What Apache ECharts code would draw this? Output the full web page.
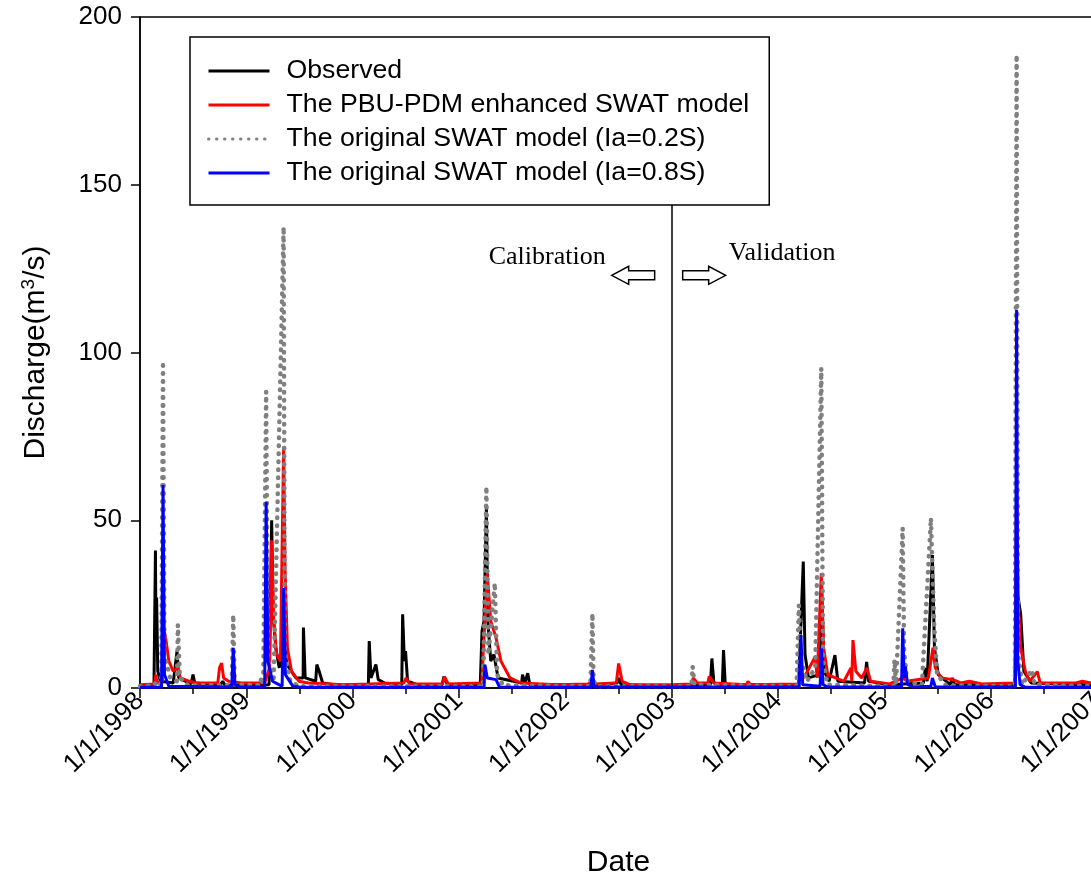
<!DOCTYPE html>
<html>
<head>
<meta charset="utf-8">
<script src="https://cdn.jsdelivr.net/npm/echarts@6/dist/echarts.min.js"></script>
<style>
  html, body { margin: 0; padding: 0; background: #fff; }
  #chart { width: 1091px; height: 875px; }
</style>
</head>
<body>
<div id="chart"></div>
<script>
// Daily discharge (m3/s), key points of each hydrograph: [date, value]
const observed = [
  ['1998-01-01', 0.5], ['1998-02-18', 0.8], ['1998-02-23', 41], ['1998-02-25', 12], ['1998-02-27', 27],
  ['1998-03-03', 5], ['1998-03-12', 2], ['1998-04-25', 1.5], ['1998-05-08', 11], ['1998-05-14', 3],
  ['1998-06-25', 1.2], ['1998-07-02', 4], ['1998-07-08', 1.5], ['1998-10-04', 1.0], ['1998-10-12', 2],
  ['1998-10-20', 0.8], ['1999-03-20', 1.0], ['1999-03-29', 50], ['1999-04-03', 22], ['1999-04-12', 12],
  ['1999-04-24', 6], ['1999-05-09', 15], ['1999-05-20', 7], ['1999-06-20', 3], ['1999-07-15', 3],
  ['1999-07-16', 18], ['1999-07-22', 3], ['1999-08-27', 2], ['1999-08-31', 7], ['1999-09-08', 5],
  ['1999-09-20', 1.5], ['1999-11-10', 0.8], ['2000-02-24', 1], ['2000-02-27', 14], ['2000-03-04', 3],
  ['2000-03-21', 7], ['2000-03-29', 2.5], ['2000-04-20', 1.5], ['2000-06-18', 1], ['2000-06-21', 22],
  ['2000-06-27', 8], ['2000-07-01', 11], ['2000-07-08', 2], ['2000-08-10', 1], ['2000-11-04', 1],
  ['2000-11-10', 3.4], ['2000-11-22', 1], ['2001-03-15', 1], ['2001-03-21', 17], ['2001-03-28', 20],
  ['2001-04-05', 54], ['2001-04-10', 20], ['2001-04-20', 8], ['2001-05-01', 10], ['2001-05-15', 3],
  ['2001-08-04', 1.5], ['2001-08-07', 4], ['2001-08-15', 1.5], ['2001-08-25', 4.4], ['2001-09-01', 1],
  ['2002-03-28', 1], ['2002-04-04', 3], ['2002-04-15', 1], ['2002-06-28', 1.5], ['2002-07-03', 3],
  ['2002-07-12', 1], ['2003-01-01', 0.5], ['2003-05-14', 1], ['2003-05-19', 8.8], ['2003-05-26', 1.5],
  ['2003-06-24', 1], ['2003-06-28', 11.3], ['2003-07-04', 1], ['2004-03-12', 1], ['2004-03-28', 37.7],
  ['2004-04-03', 10], ['2004-04-15', 3], ['2004-05-22', 4], ['2004-05-30', 29.7], ['2004-06-08', 5],
  ['2004-06-25', 2], ['2004-07-15', 9.8], ['2004-07-25', 2], ['2004-10-25', 1.5], ['2004-11-01', 7.8],
  ['2004-11-08', 2], ['2005-01-15', 1], ['2005-05-15', 1.5], ['2005-05-22', 6], ['2005-05-28', 2],
  ['2005-06-15', 39.6], ['2005-06-22', 12], ['2005-07-05', 4], ['2005-08-15', 1], ['2005-08-22', 3],
  ['2005-08-30', 1], ['2006-03-25', 1], ['2006-03-31', 30], ['2006-04-14', 22], ['2006-04-25', 5],
  ['2006-05-20', 1.5], ['2007-01-01', 0.8]
];

const pbuPdm = [
  ['1998-01-01', 1], ['1998-02-20', 1.2], ['1998-02-24', 4], ['1998-03-01', 1.5], ['1998-03-19', 2],
  ['1998-03-23', 18], ['1998-03-30', 15], ['1998-04-10', 8], ['1998-04-25', 5], ['1998-05-10', 6],
  ['1998-05-20', 3], ['1998-06-20', 2], ['1998-07-10', 1.5], ['1998-09-25', 1.5], ['1998-10-01', 6],
  ['1998-10-08', 7.4], ['1998-10-15', 3], ['1998-11-01', 2], ['1998-12-15', 1.5], ['1999-03-05', 1.5],
  ['1999-03-10', 3], ['1999-03-22', 6], ['1999-03-29', 44], ['1999-04-05', 20], ['1999-04-15', 10],
  ['1999-04-28', 8], ['1999-05-09', 72], ['1999-05-14', 35], ['1999-05-22', 12], ['1999-06-05', 5],
  ['1999-07-01', 2], ['1999-08-01', 1.5], ['1999-12-01', 1], ['2000-03-01', 1.2], ['2000-06-25', 1.5],
  ['2000-07-03', 3], ['2000-07-15', 1.2], ['2000-11-05', 1.2], ['2000-11-12', 3.4], ['2000-11-25', 1.2],
  ['2001-03-20', 1.5], ['2001-04-08', 34], ['2001-04-20', 20], ['2001-05-08', 15], ['2001-05-25', 8],
  ['2001-06-25', 3], ['2001-08-01', 1.5], ['2001-12-01', 1], ['2002-03-20', 1.2], ['2002-04-03', 2],
  ['2002-04-15', 1.2], ['2002-06-25', 1.5], ['2002-07-03', 7.3], ['2002-07-15', 2], ['2002-08-10', 1],
  ['2003-01-01', 1], ['2003-03-10', 1.2], ['2003-03-16', 3], ['2003-03-30', 1.5], ['2003-05-05', 1.5],
  ['2003-05-10', 3.5], ['2003-05-25', 1.5], ['2003-09-15', 1], ['2003-09-20', 2], ['2003-09-28', 1],
  ['2004-03-10', 1.2], ['2004-03-20', 5], ['2004-03-30', 3], ['2004-05-08', 9.3], ['2004-05-15', 3],
  ['2004-05-29', 34.2], ['2004-06-06', 12], ['2004-06-20', 4], ['2004-08-15', 2], ['2004-09-08', 6],
  ['2004-09-11', 2], ['2004-09-15', 14.3], ['2004-09-25', 5], ['2004-10-15', 3], ['2004-11-02', 6],
  ['2004-11-15', 2], ['2005-01-20', 1.2], ['2005-03-05', 3], ['2005-03-20', 2], ['2005-06-01', 3],
  ['2005-06-17', 12], ['2005-06-25', 6], ['2005-07-15', 3], ['2005-08-25', 2.5], ['2005-09-20', 1.5],
  ['2005-10-20', 2], ['2005-12-01', 1.2], ['2006-03-25', 1.5], ['2006-03-31', 60], ['2006-04-06', 25],
  ['2006-04-14', 12], ['2006-04-30', 5], ['2006-05-15', 2], ['2006-06-10', 4.9], ['2006-06-20', 1.5],
  ['2006-09-12', 1.5], ['2006-09-15', 2], ['2006-10-20', 1.5], ['2006-11-12', 2], ['2006-12-10', 1.5],
  ['2007-01-01', 1]
];

const swat02S = [
  ['1998-01-01', 0.5], ['1998-02-20', 0.8], ['1998-02-25', 2], ['1998-03-15', 1], ['1998-03-21', 97.3],
  ['1998-03-26', 10], ['1998-04-15', 3], ['1998-05-08', 2], ['1998-05-11', 18.8], ['1998-05-18', 3],
  ['1998-06-15', 0.8], ['1998-11-12', 0.8], ['1998-11-17', 21.8], ['1998-11-22', 1], ['1999-02-18', 0.8],
  ['1999-02-21', 3.4], ['1999-02-28', 1], ['1999-03-10', 88.3], ['1999-03-16', 8], ['1999-04-05', 3],
  ['1999-05-09', 137.4], ['1999-05-13', 10], ['1999-06-01', 2], ['1999-07-01', 0.5], ['2001-03-25', 0.5],
  ['2001-04-05', 60], ['2001-04-12', 10], ['2001-05-04', 31.3], ['2001-05-12', 4], ['2001-06-01', 0.8],
  ['2002-03-28', 0.5], ['2002-04-04', 22.2], ['2002-04-08', 2], ['2002-04-20', 0.5], ['2003-03-10', 0.5],
  ['2003-03-14', 6.4], ['2003-03-20', 1], ['2004-03-05', 0.5], ['2004-03-13', 24.7], ['2004-03-20', 8],
  ['2004-04-10', 2], ['2004-05-08', 6], ['2004-05-29', 95.3], ['2004-06-04', 8], ['2004-06-20', 1],
  ['2005-02-01', 0.5], ['2005-02-05', 8.3], ['2005-02-10', 1], ['2005-03-05', 47.6], ['2005-03-10', 10.8],
  ['2005-03-20', 2], ['2005-05-10', 1], ['2005-06-10', 50.6], ['2005-06-21', 18.8], ['2005-07-01', 4],
  ['2005-08-01', 0.8], ['2006-03-25', 0.5], ['2006-03-31', 188.7], ['2006-04-05', 10], ['2006-04-20', 1],
  ['2006-05-22', 5.4], ['2006-06-01', 1], ['2007-01-01', 0.5]
];

const swat08S = [
  ['1998-01-01', 0.2], ['1998-03-16', 0.2], ['1998-03-21', 60.5], ['1998-03-26', 4], ['1998-04-10', 0.5],
  ['1998-11-12', 0.3], ['1998-11-17', 12], ['1998-11-23', 1], ['1998-12-10', 0.3], ['1999-03-05', 0.3],
  ['1999-03-10', 55.4], ['1999-03-16', 8], ['1999-04-01', 2], ['1999-05-04', 0.5], ['1999-05-09', 29.8],
  ['1999-05-15', 4], ['1999-06-10', 0.5], ['1999-07-10', 0.2], ['2001-03-28', 0.2], ['2001-03-31', 6.9],
  ['2001-04-08', 3], ['2001-05-08', 2.5], ['2001-05-20', 0.3], ['2002-03-30', 0.2], ['2002-04-04', 5.4],
  ['2002-04-09', 0.3], ['2004-03-14', 0.3], ['2004-03-20', 15.8], ['2004-03-26', 1], ['2004-05-25', 0.5],
  ['2004-05-29', 11.8], ['2004-06-04', 1], ['2004-06-20', 0.3], ['2005-03-01', 0.3], ['2005-03-05', 17.8],
  ['2005-03-10', 3], ['2005-03-14', 6.4], ['2005-03-22', 1], ['2005-04-10', 0.3], ['2005-06-10', 0.5],
  ['2005-06-15', 3], ['2005-06-25', 0.3], ['2006-03-27', 0.3], ['2006-03-31', 112.7], ['2006-04-04', 8],
  ['2006-04-12', 1], ['2006-05-01', 0.2], ['2007-01-01', 0.2]
];

const seriesNames = [
  'Observed',
  'The PBU-PDM enhanced SWAT model',
  'The original SWAT model (Ia=0.2S)',
  'The original SWAT model (Ia=0.8S)'
];

const yearTicks = [1998, 1999, 2000, 2001, 2002, 2003, 2004, 2005, 2006, 2007];
const splitYear = 2003;
const splitTop = 144; // divider runs from the axis up to the legend box

// Convert an ISO date to a fractional year for the value axis
function toYear(s) {
  const d = Date.parse(s + 'T00:00:00Z');
  const y = Number(s.slice(0, 4));
  const a = Date.UTC(y, 0, 1), b = Date.UTC(y + 1, 0, 1);
  return y + (d - a) / (b - a);
}
const toXY = arr => arr.map(([d, v]) => [toYear(d), v]);

const SANS = 'Arial, "Liberation Sans", sans-serif';
const SERIF = '"Times New Roman", "Liberation Serif", serif';

const chart = echarts.init(document.getElementById('chart'), null, { renderer: 'canvas' });

const baseLine = { type: 'line', showSymbol: false, symbol: 'none', animation: false, silent: true };

chart.setOption({
  backgroundColor: '#fff',
  animation: false,
  grid: {
    left: 140, top: 17, width: 957, height: 671,
    outerBoundsMode: 'none', containLabel: false,
    show: true, borderColor: '#000', borderWidth: 1.5, backgroundColor: 'transparent'
  },
  legend: {
    orient: 'vertical',
    left: 190, top: 37,
    padding: [19, 20, 17, 17],
    itemGap: 4,
    itemWidth: 61,
    itemHeight: 14,
    backgroundColor: '#fff',
    borderColor: '#000',
    borderWidth: 1.5,
    selectedMode: false,
    itemStyle: { color: 'rgba(0,0,0,0)', borderWidth: 0, opacity: 0 },
    lineStyle: { width: 3 },
    textStyle: { fontFamily: SANS, fontSize: 26.7, color: '#000', lineHeight: 30, padding: [0, 0, 0, 12] },
    data: seriesNames,
    z: 10
  },
  xAxis: {
    type: 'value',
    min: yearTicks[0], max: yearTicks[yearTicks.length - 1], interval: 1,
    name: 'Date', nameLocation: 'middle', nameGap: 160,
    nameTextStyle: { fontFamily: SANS, fontSize: 30, color: '#000' },
    axisLine: { show: true, lineStyle: { color: '#000', width: 1.5 } },
    axisTick: { show: true, inside: false, length: 10, lineStyle: { color: '#000', width: 1.5 } },
    minorTick: { show: true, splitNumber: 2, length: 6, lineStyle: { color: '#000', width: 1.5 } },
    splitLine: { show: false },
    axisLabel: {
      rotate: 45, margin: 9, fontFamily: SANS, fontSize: 26, color: '#000',
      formatter: v => '1/1/' + v
    }
  },
  yAxis: {
    type: 'value', min: 0, max: 200, interval: 50,
    name: 'Discharge(m{sup|3}/s)', nameLocation: 'middle', nameGap: 88, nameRotate: 90,
    nameTextStyle: {
      fontFamily: SANS, fontSize: 30, color: '#000',
      rich: { sup: { fontFamily: SANS, fontSize: 19, color: '#000', padding: [0, 0, 14, 0] } }
    },
    axisLine: { show: true, lineStyle: { color: '#000', width: 1.5 } },
    axisTick: { show: true, inside: false, length: 9, lineStyle: { color: '#000', width: 1.5 } },
    splitLine: { show: false },
    axisLabel: { margin: 18, fontFamily: SANS, fontSize: 26, color: '#000' }
  },
  series: [
    Object.assign({}, baseLine, {
      name: seriesNames[0], data: toXY(observed), z: 2,
      lineStyle: { color: '#000', width: 3 }, itemStyle: { color: '#000' },
      markLine: {
        silent: true, symbol: 'none', animation: false,
        label: { show: false },
        lineStyle: { color: '#000', width: 1.5, type: 'solid' },
        data: [[{ coord: [splitYear, 0] }, { coord: [splitYear, splitTop] }]]
      }
    }),
    Object.assign({}, baseLine, {
      name: seriesNames[1], data: toXY(pbuPdm), z: 3,
      lineStyle: { color: '#ff0000', width: 3 }, itemStyle: { color: '#ff0000' }
    }),
    Object.assign({}, baseLine, {
      name: seriesNames[2], data: toXY(swat02S), z: 4,
      lineStyle: { color: '#808080', width: 4.5, type: [0.5, 7.5], cap: 'round' },
      itemStyle: { color: '#808080' }
    }),
    Object.assign({}, baseLine, {
      name: seriesNames[3], data: toXY(swat08S), z: 5,
      lineStyle: { color: '#0000ff', width: 3 }, itemStyle: { color: '#0000ff' }
    })
  ]
});

// Period annotations on either side of the calibration / validation split
const [x0, yArrow] = chart.convertToPixel({ gridIndex: 0 }, [splitYear, 123]);
const yCal = chart.convertToPixel({ gridIndex: 0 }, [splitYear, 128.5])[1];
const yVal = chart.convertToPixel({ gridIndex: 0 }, [splitYear, 129.5])[1];
const arrowStyle = { fill: '#fff', stroke: '#000', lineWidth: 1.5 };
chart.setOption({
  graphic: [
    { type: 'text', x: x0 - 66, y: yCal, style: { text: 'Calibration', font: '26px ' + SERIF, fill: '#000', align: 'right', verticalAlign: 'middle' } },
    { type: 'text', x: x0 + 57, y: yVal, style: { text: 'Validation', font: '26px ' + SERIF, fill: '#000', align: 'left', verticalAlign: 'middle' } },
    { type: 'polygon', shape: { points: [
        [x0 - 60, yArrow], [x0 - 43, yArrow - 9], [x0 - 43, yArrow - 4.5], [x0 - 17, yArrow - 4.5],
        [x0 - 17, yArrow + 4.5], [x0 - 43, yArrow + 4.5], [x0 - 43, yArrow + 9]
      ] }, style: arrowStyle },
    { type: 'polygon', shape: { points: [
        [x0 + 54, yArrow], [x0 + 37, yArrow - 9], [x0 + 37, yArrow - 4.5], [x0 + 11, yArrow - 4.5],
        [x0 + 11, yArrow + 4.5], [x0 + 37, yArrow + 4.5], [x0 + 37, yArrow + 9]
      ] }, style: arrowStyle }
  ]
});
</script>
</body>
</html>
